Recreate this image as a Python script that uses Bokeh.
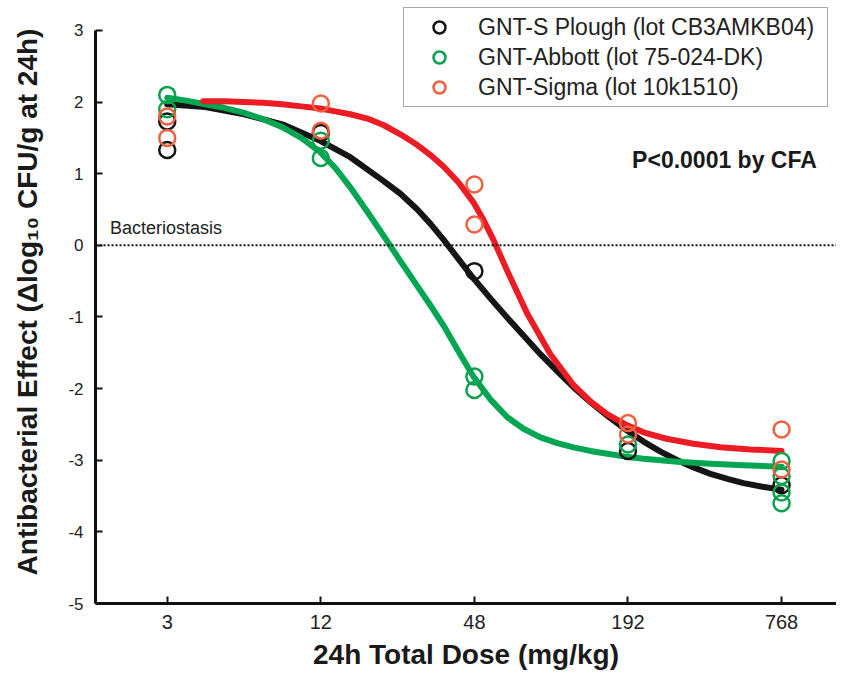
from bokeh.plotting import figure
from bokeh.models import (Range1d, FixedTicker, BasicTickFormatter, Span, Label,
                          Legend, LegendItem)
from bokeh.embed import file_html
from bokeh.resources import INLINE

# ---------------- data ----------------
x_ticks = [3, 12, 48, 192, 768]
y_ticks = [-5, -4, -3, -2, -1, 0, 1, 2, 3]
y_tick_labels = {-5: "-5", -4: "-4", -3: "-3", -2: "-2", -1: "-1", 0: "0", 1: "1", 2: "2", 3: "3"}

# observed points (dose mg/kg, delta log10 CFU/g)
plough_dose = [3, 3, 12, 48, 192, 768]
plough_val = [1.73, 1.33, 1.57, -0.36, -2.87, -3.35]

abbott_dose = [3, 3, 12, 12, 48, 48, 192, 768, 768, 768, 768]
abbott_val = [2.10, 1.90, 1.46, 1.22, -1.83, -2.02, -2.78, -3.01, -3.22, -3.45, -3.60]

sigma_dose = [3, 3, 12, 12, 48, 48, 192, 192, 768, 768]
sigma_val = [1.80, 1.50, 1.98, 1.60, 0.85, 0.29, -2.48, -2.64, -2.57, -3.13]

# fitted curves
plough_fit_dose = [3.00, 4.23, 6.01, 8.48, 11.94, 15.66, 21.10, 24.62, 28.68, 32.30, 36.33,
                   41.53, 47.57, 55.43, 64.62, 74.73, 87.09, 101.5, 117.4, 136.8, 159.5,
                   187.7, 220.9, 257.5, 300.1, 346.9, 404.3, 471.2, 544.7, 646.6, 768]
plough_fit_val = [1.97, 1.93, 1.83, 1.69, 1.46, 1.23, 0.90, 0.72, 0.50, 0.30, 0.08,
                  -0.19, -0.46, -0.74, -1.01, -1.26, -1.52, -1.76, -1.98, -2.19, -2.38,
                  -2.57, -2.74, -2.88, -3.00, -3.10, -3.19, -3.26, -3.32, -3.37, -3.41]

abbott_fit_dose = [3.00, 3.56, 4.23, 5.02, 6.01, 7.14, 8.48, 10.06, 11.94, 13.68, 15.66,
                   18.26, 21.10, 24.62, 28.68, 32.30, 36.33, 41.53, 47.57, 55.43, 64.62,
                   74.73, 87.09, 101.5, 117.4, 136.8, 159.5, 187.7, 220.9, 300.1, 404.3,
                   544.7, 768]
abbott_fit_val = [2.06, 2.02, 1.97, 1.92, 1.85, 1.76, 1.65, 1.50, 1.30, 1.08, 0.81,
                  0.47, 0.14, -0.22, -0.57, -0.84, -1.12, -1.48, -1.83, -2.15, -2.40,
                  -2.56, -2.68, -2.76, -2.82, -2.87, -2.91, -2.95, -2.98, -3.02, -3.05,
                  -3.07, -3.09]

sigma_fit_dose = [4.15, 5.02, 6.01, 7.14, 8.48, 10.06, 11.94, 13.68, 15.66, 18.26, 21.10,
                  24.62, 28.68, 32.30, 36.33, 41.53, 47.57, 52.0, 56.96, 64.62, 77.5,
                  95.3, 117.4, 136.8, 159.5, 187.7, 220.9, 271.7, 346.9, 442.6, 580.5, 768]
sigma_fit_val = [2.01, 2.01, 2.00, 1.99, 1.97, 1.94, 1.91, 1.87, 1.83, 1.77, 1.68,
                 1.55, 1.40, 1.26, 1.10, 0.88, 0.60, 0.36, 0.08, -0.36, -0.96,
                 -1.52, -1.95, -2.18, -2.36, -2.50, -2.61, -2.70, -2.77, -2.82, -2.85, -2.87]

labels = ["GNT-S Plough (lot CB3AMKB04)", "GNT-Abbott (lot 75-024-DK)", "GNT-Sigma (lot 10k1510)"]

# ---------------- styles ----------------
FONT = "Liberation Sans"
BLACK = "#151515"
GREEN_LINE = "#00a651"
GREEN_PT = "#0aa14e"
RED_LINE = "#ec1c24"
RED_PT = "#f2603f"

p = figure(width=836, height=672, x_axis_type="log",
           x_range=Range1d(1.57, 1261), y_range=Range1d(-5, 3.418),
           output_backend="svg", toolbar_location=None,
           min_border_left=95, min_border_right=0, min_border_top=0,
           min_border_bottom=60)
p.outline_line_color = None
p.grid.visible = False
p.background_fill_color = "white"
p.border_fill_color = "white"

# axes
p.xaxis.ticker = FixedTicker(ticks=x_ticks, minor_ticks=[])
p.xaxis.formatter = BasicTickFormatter(use_scientific=False)
p.yaxis.ticker = FixedTicker(ticks=y_ticks, minor_ticks=[])
p.yaxis.major_label_overrides = y_tick_labels
p.yaxis.bounds = (-5, 3)
for ax in (p.xaxis, p.yaxis):
    ax.axis_line_width = 3
    ax.axis_line_color = "#111111"
    ax.major_tick_in = 7
    ax.major_tick_out = 0
    ax.major_tick_line_width = 2
    ax.major_tick_line_color = "#111111"
    ax.minor_tick_line_color = None
    ax.major_label_text_font = FONT
    ax.major_label_text_color = "#222222"
    ax.axis_label_text_font = FONT
    ax.axis_label_text_font_style = "bold"
    ax.axis_label_text_font_size = "28px"
    ax.axis_label_text_color = "#1a1a1a"
p.xaxis.major_label_text_font_size = "20px"
p.yaxis.major_label_text_font_size = "17px"
p.xaxis.major_label_standoff = 11
p.yaxis.major_label_standoff = 12
p.xaxis.axis_label_standoff = 7
p.yaxis.axis_label_standoff = 22
p.xaxis.axis_label = "24h Total Dose (mg/kg)"
p.yaxis.axis_label = "Antibacterial Effect (\u0394log\u2081\u2080 CFU/g at 24h)"

# bacteriostasis line
p.add_layout(Span(location=0, dimension="width", line_color="#111111",
                  line_width=2, line_dash="2 2"))

# curves
p.line(plough_fit_dose, plough_fit_val, line_color=BLACK, line_width=6, line_cap="round", line_join="round")
p.line(abbott_fit_dose, abbott_fit_val, line_color=GREEN_LINE, line_width=6, line_cap="round", line_join="round")
p.line(sigma_fit_dose, sigma_fit_val, line_color=RED_LINE, line_width=6, line_cap="round", line_join="round")

# points
r1 = p.scatter(plough_dose, plough_val, marker="circle", size=16, fill_color=None,
               line_color=BLACK, line_width=2.5)
r2 = p.scatter(abbott_dose, abbott_val, marker="circle", size=16, fill_color=None,
               line_color=GREEN_PT, line_width=2.5)
r3 = p.scatter(sigma_dose, sigma_val, marker="circle", size=16, fill_color=None,
               line_color=RED_PT, line_width=2.5)

# text annotations
p.add_layout(Label(x=1.79, y=0.24, text="Bacteriostasis", text_font=FONT,
                   text_font_size="18px", text_color="#222222",
                   text_align="left", text_baseline="alphabetic"))
p.add_layout(Label(x=1056, y=1.185, text="P<0.0001 by CFA", text_font=FONT,
                   text_font_size="23px", text_font_style="bold", text_color="#1a1a1a",
                   text_align="right", text_baseline="alphabetic"))

legend = Legend(items=[LegendItem(label=labels[0], renderers=[r1]),
                       LegendItem(label=labels[1], renderers=[r2]),
                       LegendItem(label=labels[2], renderers=[r3])],
                location=(308, 496))
legend.label_text_font = FONT
legend.label_text_font_size = "23px"
legend.label_text_color = "#222222"
legend.border_line_color = "#555555"
legend.border_line_width = 1.5
legend.background_fill_color = "white"
legend.background_fill_alpha = 1.0
legend.padding = 4
legend.margin = 0
legend.glyph_width = 62
legend.glyph_height = 30
legend.label_height = 24
legend.label_width = 345
legend.label_standoff = 8
legend.spacing = 0
p.add_layout(legend)

open("out.html", "w").write(file_html(p, INLINE))
